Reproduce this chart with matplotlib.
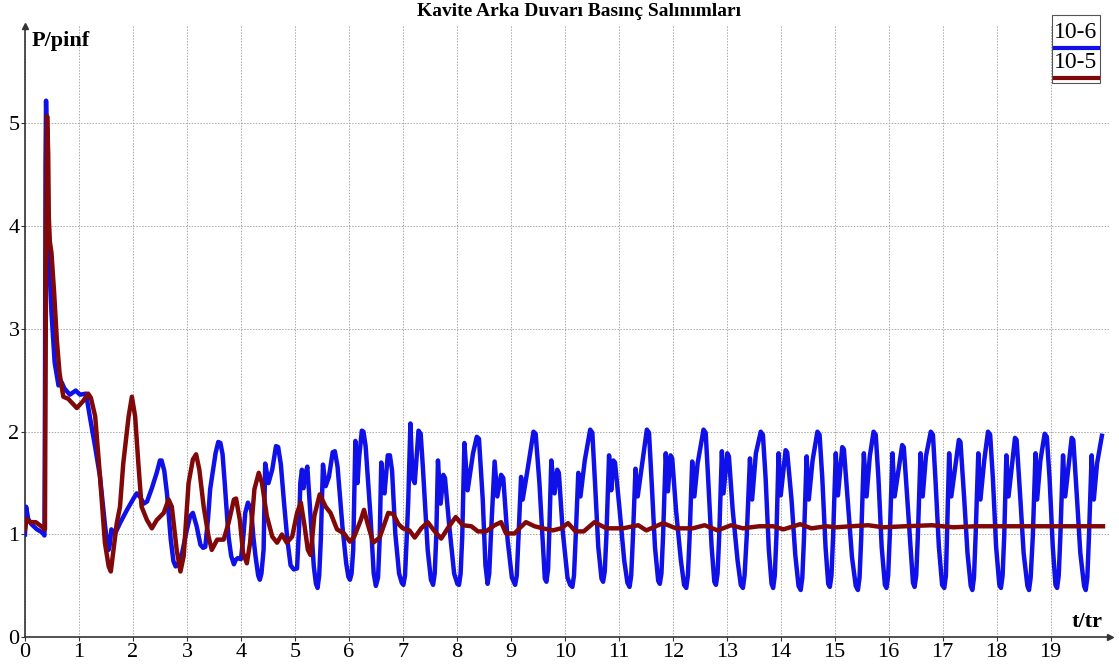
import matplotlib
matplotlib.use("Agg")
import matplotlib.pyplot as plt
from matplotlib.patches import Rectangle
from matplotlib.lines import Line2D

plt.rcParams['font.family'] = ['Liberation Serif', 'DejaVu Serif']

title = "Kavite Arka Duvarı Basınç Salınımları"
labels = ["10-6", "10-5"]

# 10-6 series, (t/tr, P/pinf)
pts_a = [
    (0.00, 1.00), (0.02, 1.27), (0.06, 1.15), (0.12, 1.10), (0.22, 1.05), (0.32, 1.02), (0.36, 0.99),
    (0.37, 2.30), (0.38, 4.60), (0.39, 5.22), (0.42, 4.50), (0.44, 3.75), (0.49, 3.16), (0.55, 2.67),
    (0.62, 2.45), (0.68, 2.48), (0.73, 2.42), (0.83, 2.36), (0.94, 2.40), (1.02, 2.36), (1.13, 2.37),
    (1.20, 2.15), (1.30, 1.85), (1.39, 1.56), (1.48, 1.10), (1.53, 0.88), (1.55, 0.85), (1.57, 0.90),
    (1.60, 1.05), (1.67, 1.01), (1.76, 1.11), (1.89, 1.24), (2.01, 1.35), (2.07, 1.40), (2.14, 1.36),
    (2.20, 1.30), (2.26, 1.32), (2.35, 1.45), (2.44, 1.60), (2.50, 1.72), (2.53, 1.72), (2.58, 1.62),
    (2.63, 1.40), (2.70, 0.95), (2.75, 0.74), (2.79, 0.69), (2.83, 0.70), (2.88, 0.78), (2.91, 0.82),
    (3.00, 1.05), (3.06, 1.18), (3.11, 1.21), (3.18, 1.08), (3.25, 0.90), (3.30, 0.87), (3.34, 0.88),
    (3.39, 1.15), (3.43, 1.44), (3.53, 1.79), (3.58, 1.90), (3.62, 1.89), (3.66, 1.78), (3.70, 1.50),
    (3.77, 0.98), (3.82, 0.79), (3.87, 0.71), (3.90, 0.75), (3.94, 0.77), (4.00, 0.76), (4.04, 0.95),
    (4.08, 1.21), (4.13, 1.31), (4.19, 1.24), (4.23, 0.98), (4.27, 0.79), (4.32, 0.60), (4.35, 0.56),
    (4.38, 0.62), (4.42, 0.85), (4.45, 1.69), (4.48, 1.60), (4.51, 1.50), (4.58, 1.63), (4.65, 1.86),
    (4.69, 1.85), (4.74, 1.68), (4.80, 1.30), (4.86, 0.95), (4.92, 0.70), (4.98, 0.66), (5.04, 0.67),
    (5.08, 1.10), (5.10, 1.50), (5.13, 1.63), (5.16, 1.45), (5.18, 1.56), (5.23, 1.66), (5.29, 1.18),
    (5.35, 0.69), (5.39, 0.52), (5.42, 0.48), (5.45, 0.60), (5.48, 0.95), (5.52, 1.68), (5.57, 1.47),
    (5.63, 1.56), (5.70, 1.80), (5.74, 1.81), (5.79, 1.66), (5.88, 1.08), (5.95, 0.72), (5.99, 0.59),
    (6.02, 0.56), (6.05, 0.62), (6.08, 0.85), (6.12, 1.91), (6.16, 1.50), (6.19, 1.75), (6.24, 2.01),
    (6.27, 2.00), (6.31, 1.86), (6.40, 1.18), (6.46, 0.62), (6.50, 0.50), (6.54, 0.58), (6.57, 0.95),
    (6.60, 1.70), (6.64, 1.45), (6.66, 1.40), (6.72, 1.77), (6.76, 1.77), (6.80, 1.62), (6.86, 1.01),
    (6.93, 0.62), (6.98, 0.53), (7.01, 0.51), (7.04, 0.60), (7.07, 0.95), (7.10, 1.33), (7.14, 2.08),
    (7.18, 1.55), (7.22, 1.50), (7.29, 2.01), (7.33, 1.98), (7.37, 1.66), (7.46, 0.85), (7.52, 0.56),
    (7.56, 0.51), (7.59, 0.62), (7.62, 1.00), (7.65, 1.72), (7.70, 1.30), (7.75, 1.58), (7.78, 1.55),
    (7.86, 1.08), (7.95, 0.62), (8.01, 0.52), (8.04, 0.51), (8.07, 0.62), (8.10, 0.98), (8.14, 1.89),
    (8.20, 1.43), (8.30, 1.79), (8.37, 1.95), (8.41, 1.93), (8.48, 1.34), (8.53, 0.70), (8.57, 0.52),
    (8.60, 0.62), (8.63, 0.98), (8.70, 1.71), (8.75, 1.37), (8.82, 1.58), (8.86, 1.55), (8.94, 0.95),
    (9.02, 0.58), (9.08, 0.51), (9.11, 0.60), (9.14, 0.95), (9.19, 1.56), (9.22, 1.34), (9.31, 1.63),
    (9.42, 2.00), (9.46, 1.98), (9.53, 1.50), (9.59, 0.95), (9.63, 0.57), (9.66, 0.54), (9.69, 0.66),
    (9.71, 0.98), (9.75, 1.72), (9.81, 1.40), (9.86, 1.63), (9.89, 1.60), (9.96, 1.04), (10.05, 0.58),
    (10.10, 0.51), (10.14, 0.49), (10.17, 0.60), (10.20, 0.95), (10.25, 1.60), (10.29, 1.37),
    (10.37, 1.72), (10.47, 2.02), (10.51, 1.99), (10.56, 1.50), (10.62, 0.88), (10.68, 0.57),
    (10.71, 0.54), (10.74, 0.64), (10.77, 0.98), (10.82, 1.77), (10.86, 1.43), (10.90, 1.72),
    (10.93, 1.70), (11.01, 1.27), (11.10, 0.75), (11.16, 0.53), (11.20, 0.49), (11.23, 0.60),
    (11.26, 0.95), (11.31, 1.64), (11.35, 1.37), (11.41, 1.60), (11.52, 2.02), (11.56, 1.99),
    (11.61, 1.50), (11.67, 0.88), (11.73, 0.55), (11.76, 0.52), (11.79, 0.62), (11.82, 0.98),
    (11.87, 1.79), (11.91, 1.42), (11.96, 1.77), (11.99, 1.74), (12.06, 1.24), (12.15, 0.75),
    (12.21, 0.51), (12.25, 0.48), (12.28, 0.60), (12.31, 0.95), (12.36, 1.71), (12.40, 1.37),
    (12.46, 1.69), (12.57, 2.02), (12.61, 1.99), (12.66, 1.50), (12.72, 0.88), (12.77, 0.54),
    (12.80, 0.51), (12.83, 0.62), (12.86, 0.98), (12.91, 1.81), (12.94, 1.40), (13.01, 1.79),
    (13.04, 1.76), (13.11, 1.24), (13.20, 0.75), (13.26, 0.51), (13.30, 0.48), (13.33, 0.60),
    (13.37, 0.98), (13.43, 1.74), (13.47, 1.34), (13.54, 1.79), (13.63, 2.00), (13.67, 1.97),
    (13.72, 1.55), (13.78, 0.85), (13.83, 0.52), (13.86, 0.48), (13.89, 0.60), (13.92, 0.98),
    (13.96, 1.79), (14.00, 1.38), (14.09, 1.82), (14.12, 1.80), (14.20, 1.34), (14.27, 0.80),
    (14.33, 0.50), (14.37, 0.46), (14.40, 0.58), (14.43, 0.95), (14.48, 1.76), (14.52, 1.34),
    (14.59, 1.72), (14.68, 2.00), (14.72, 1.97), (14.77, 1.55), (14.83, 0.88), (14.88, 0.52),
    (14.91, 0.49), (14.94, 0.60), (14.97, 0.98), (15.02, 1.79), (15.06, 1.38), (15.14, 1.85),
    (15.17, 1.83), (15.25, 1.27), (15.32, 0.78), (15.39, 0.50), (15.43, 0.46), (15.46, 0.58),
    (15.49, 0.95), (15.54, 1.79), (15.59, 1.37), (15.65, 1.76), (15.72, 2.00), (15.76, 1.97),
    (15.81, 1.55), (15.87, 0.88), (15.93, 0.51), (15.96, 0.48), (15.99, 0.60), (16.02, 0.98),
    (16.07, 1.79), (16.11, 1.37), (16.25, 1.87), (16.28, 1.85), (16.35, 1.30), (16.41, 0.82),
    (16.45, 0.53), (16.48, 0.49), (16.51, 0.60), (16.54, 0.98), (16.59, 1.79), (16.63, 1.37),
    (16.69, 1.76), (16.78, 2.00), (16.82, 1.97), (16.87, 1.50), (16.93, 0.88), (16.99, 0.51),
    (17.03, 0.48), (17.06, 0.60), (17.08, 0.98), (17.12, 1.79), (17.16, 1.37), (17.30, 1.92),
    (17.33, 1.90), (17.40, 1.34), (17.46, 0.82), (17.52, 0.50), (17.55, 0.46), (17.58, 0.58),
    (17.61, 0.98), (17.66, 1.79), (17.70, 1.34), (17.77, 1.72), (17.84, 2.00), (17.88, 1.97),
    (17.93, 1.55), (17.99, 0.88), (18.05, 0.51), (18.08, 0.48), (18.11, 0.60), (18.14, 0.98),
    (18.18, 1.77), (18.22, 1.37), (18.34, 1.94), (18.37, 1.92), (18.44, 1.34), (18.50, 0.82),
    (18.57, 0.50), (18.60, 0.46), (18.63, 0.58), (18.67, 0.98), (18.72, 1.79), (18.75, 1.34),
    (18.81, 1.72), (18.89, 1.98), (18.93, 1.95), (18.98, 1.55), (19.04, 0.88), (19.09, 0.51),
    (19.12, 0.48), (19.15, 0.60), (19.18, 0.98), (19.23, 1.77), (19.27, 1.37), (19.39, 1.94),
    (19.42, 1.92), (19.49, 1.34), (19.55, 0.82), (19.62, 0.50), (19.65, 0.46), (19.68, 0.58),
    (19.71, 0.98), (19.76, 1.77), (19.80, 1.34), (19.86, 1.69), (19.95, 1.96),
]

# 10-5 series
t_b = [0.00, 0.03, 0.10, 0.20, 0.30, 0.37, 0.38, 0.40, 0.41, 0.43, 0.44, 0.46, 0.49, 0.54, 0.59, 0.64, 0.71,
       0.80, 0.96, 1.08, 1.17, 1.22, 1.30, 1.39, 1.48, 1.55, 1.59, 1.64, 1.70, 1.76, 1.82, 1.92, 1.98, 2.04,
       2.10, 2.16, 2.26, 2.35, 2.44, 2.57, 2.66, 2.72, 2.81, 2.88, 2.94, 3.03, 3.11, 3.17, 3.23, 3.31, 3.40,
       3.46, 3.56, 3.68, 3.77, 3.87, 3.91, 3.98, 4.04, 4.11, 4.17, 4.25, 4.33, 4.39, 4.48, 4.58, 4.67, 4.76,
       4.85, 4.95, 5.04, 5.11, 5.18, 5.24, 5.29, 5.36, 5.46, 5.57, 5.66, 5.78, 5.91, 6.02, 6.10, 6.22, 6.28,
       6.35, 6.45, 6.57, 6.73, 6.82, 6.92, 7.00, 7.12, 7.22, 7.34, 7.46, 7.59, 7.71, 7.83, 7.98, 8.11, 8.27,
       8.39, 8.54, 8.70, 8.82, 8.91, 9.07, 9.16, 9.28, 9.44, 9.59, 9.78, 9.93, 10.06, 10.20, 10.35, 10.55,
       10.77, 11.08, 11.36, 11.51, 11.82, 12.06, 12.37, 12.59, 12.83, 13.08, 13.30, 13.60, 13.86, 14.05,
       14.36, 14.57, 14.85, 15.03, 15.30, 15.62, 15.90, 16.30, 16.80, 17.20, 17.60, 18.20, 18.80, 19.40,
       19.97]
p_b = [1.05, 1.15, 1.12, 1.12, 1.08, 1.05, 2.50, 4.60, 5.07, 4.70, 4.10, 3.85, 3.74, 3.35, 2.89, 2.57, 2.34,
       2.32, 2.23, 2.30, 2.37, 2.33, 2.15, 1.56, 0.92, 0.69, 0.64, 0.85, 1.11, 1.27, 1.69, 2.15, 2.34, 2.15,
       1.69, 1.27, 1.14, 1.06, 1.14, 1.21, 1.34, 1.27, 0.85, 0.64, 0.79, 1.50, 1.73, 1.78, 1.63, 1.27, 0.98,
       0.85, 0.95, 0.95, 1.11, 1.34, 1.35, 1.14, 0.82, 0.72, 0.92, 1.44, 1.60, 1.50, 1.18, 0.98, 0.92, 1.00,
       0.92, 0.98, 1.21, 1.31, 1.08, 0.85, 0.80, 1.18, 1.39, 1.27, 1.21, 1.05, 1.01, 0.93, 0.98, 1.14, 1.24,
       1.10, 0.92, 0.97, 1.21, 1.20, 1.10, 1.06, 1.04, 0.97, 1.06, 1.12, 1.03, 0.96, 1.06, 1.17, 1.09, 1.08,
       1.03, 1.03, 1.09, 1.12, 1.01, 1.01, 1.06, 1.12, 1.08, 1.06, 1.04, 1.06, 1.11, 1.03, 1.03, 1.12,
       1.06, 1.06, 1.09, 1.04, 1.11, 1.06, 1.06, 1.09, 1.04, 1.09, 1.06, 1.08, 1.08, 1.05,
       1.10, 1.06, 1.08, 1.07, 1.08, 1.09, 1.07, 1.08, 1.09, 1.07, 1.08, 1.08, 1.08, 1.08,
       1.08]

t_a = [p[0] for p in pts_a]
p_a = [p[1] for p in pts_a]

x_ticks = list(range(20))
y_ticks = [0, 1, 2, 3, 4, 5]

W, H = 1119, 672
fig = plt.figure(figsize=(W / 100, H / 100), dpi=100)
ax = fig.add_axes([25 / W, 1 - 637.3 / H, 1085 / W, 611.7 / H])
ax.set_xlim(0, 20.1)
ax.set_ylim(0, 5.95)

ax.plot(t_a, p_a, color='#1010e8', lw=3.2, solid_joinstyle='round', zorder=3)
ax.plot(t_b, p_b, color='#800808', lw=3.2, solid_joinstyle='round', zorder=4)

ax.set_xticks(x_ticks)
ax.set_yticks(y_ticks)
ax.tick_params(labelsize=16, length=3, width=0.8, pad=1, color='#333333')
ax.grid(True, color='#a8a8a8', linestyle=(0, (1.5, 1.5)), linewidth=0.7)
for s in ['top', 'right']:
    ax.spines[s].set_visible(False)
for s in ['left', 'bottom']:
    ax.spines[s].set_color('#333333')
    ax.spines[s].set_linewidth(1.2)
# axis arrows
ax.plot(1, 0, '>', color='#333333', ms=5, transform=ax.get_yaxis_transform(), clip_on=False)
ax.plot(0, 1, '^', color='#333333', ms=5, transform=ax.get_xaxis_transform(), clip_on=False)

fig.text(579 / W, 1 - 12 / H, title, ha='center', va='center', fontsize=14, fontweight='bold')
fig.text(32 / W, 1 - 41 / H, "P/pinf", ha='left', va='center', fontsize=16, fontweight='bold')
fig.text(1103 / W, 1 - 622 / H, "t/tr", ha='right', va='center', fontsize=16, fontweight='bold')

# legend box
fig.patches.append(Rectangle((1052 / W, 1 - 83 / H), 48 / W, 68 / H, transform=fig.transFigure,
                             facecolor='white', edgecolor='#555555', lw=0.8, zorder=5))
for lab, col, ty, ly in [(labels[0], '#1010e8', 33, 48), (labels[1], '#800808', 63, 78)]:
    fig.text(1076 / W, 1 - ty / H, lab, ha='center', va='center', fontsize=17, zorder=6)
    fig.lines.append(Line2D([1055 / W, 1098 / W], [1 - ly / H, 1 - ly / H], transform=fig.transFigure,
                            color=col, lw=3.0, zorder=6))

fig.savefig('out.png', dpi=100)
